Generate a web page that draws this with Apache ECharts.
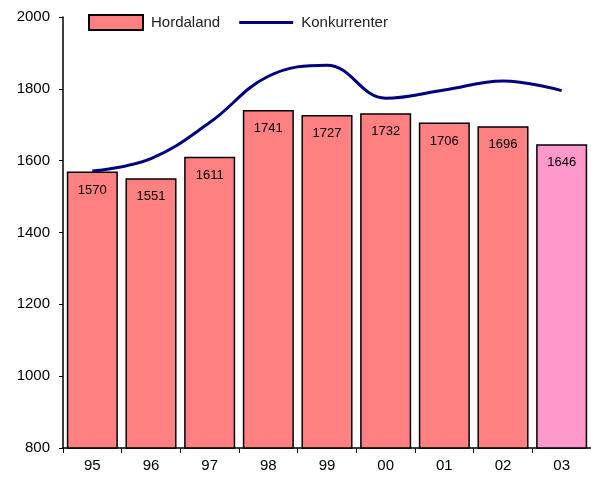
<!DOCTYPE html>
<html>
<head>
<meta charset="utf-8">
<script src="https://cdn.jsdelivr.net/npm/echarts@6/dist/echarts.min.js"></script>
<style>
  html, body { margin: 0; padding: 0; background: #fff; }
  #chart { width: 591px; height: 479px; }
</style>
</head>
<body>
<div id="chart"></div>
<script>
// data
const years = ['95', '96', '97', '98', '99', '00', '01', '02', '03'];
const hordaland = [1570, 1551, 1611, 1741, 1727, 1732, 1706, 1696, 1646];
const konkurrenter = [1571, 1606, 1706, 1835, 1866, 1774, 1797, 1822, 1795];
const yTicks = [800, 1000, 1200, 1400, 1600, 1800, 2000];

const chart = echarts.init(document.getElementById('chart'));

const font = 'Arial, "Liberation Sans", sans-serif';
// thin line icon for the legend (tiny corner marks keep the full box size)
const lineIcon = 'path://M0,0L0.01,0L0.01,0.01Z M0,6L54,6L54,9L0,9Z M53.99,14.99L54,14.99L54,15Z';

chart.setOption({
    animation: false,
    backgroundColor: '#fff',
    textStyle: { fontFamily: font },
    legend: {
        left: 88,
        top: 14,
        padding: 0,
        itemWidth: 54,
        itemHeight: 15,
        itemGap: 19,
        textStyle: { fontSize: 15, color: '#222', fontFamily: font, padding: [0, 0, 0, 3] },
        data: [
            { name: 'Hordaland', icon: 'rect' },
            { name: 'Konkurrenter', icon: lineIcon, itemStyle: { color: '#000080', borderWidth: 0 } }
        ]
    },
    grid: { left: 63, right: -3, top: 17, bottom: 31 },
    xAxis: {
        type: 'category',
        data: years,
        axisLine: { lineStyle: { color: '#000', width: 1.5 } },
        axisTick: { show: true, length: 5, lineStyle: { color: '#000' } },
        axisLabel: { color: '#000', fontSize: 15, margin: 10 }
    },
    yAxis: {
        type: 'value',
        min: yTicks[0],
        max: yTicks[yTicks.length - 1],
        interval: 200,
        splitLine: { show: false },
        axisLine: { show: true, lineStyle: { color: '#000', width: 1.5 } },
        axisTick: { show: true, length: 4, lineStyle: { color: '#000' } },
        axisLabel: { color: '#000', fontSize: 15, margin: 13, formatter: v => String(v) }
    },
    series: [
        {
            name: 'Hordaland',
            type: 'bar',
            barCategoryGap: '13%',
            data: hordaland.map((v, i) => ({
                value: v,
                itemStyle: { color: i === hordaland.length - 1 ? '#FF99CC' : '#FF8080' }
            })),
            itemStyle: { color: '#FF8080', borderColor: '#000', borderWidth: 1.5 },
            label: {
                show: true,
                position: 'insideTop',
                distance: 12,
                color: '#000',
                fontSize: 13,
                fontFamily: font
            }
        },
        {
            name: 'Konkurrenter',
            type: 'line',
            data: konkurrenter,
            smooth: 0.4,
            symbol: 'none',
            lineStyle: { color: '#000080', width: 3 },
            itemStyle: { color: '#000080' },
            z: 3
        }
    ]
});

window.addEventListener('resize', function () {
    chart.resize();
});
</script>
</body>
</html>
